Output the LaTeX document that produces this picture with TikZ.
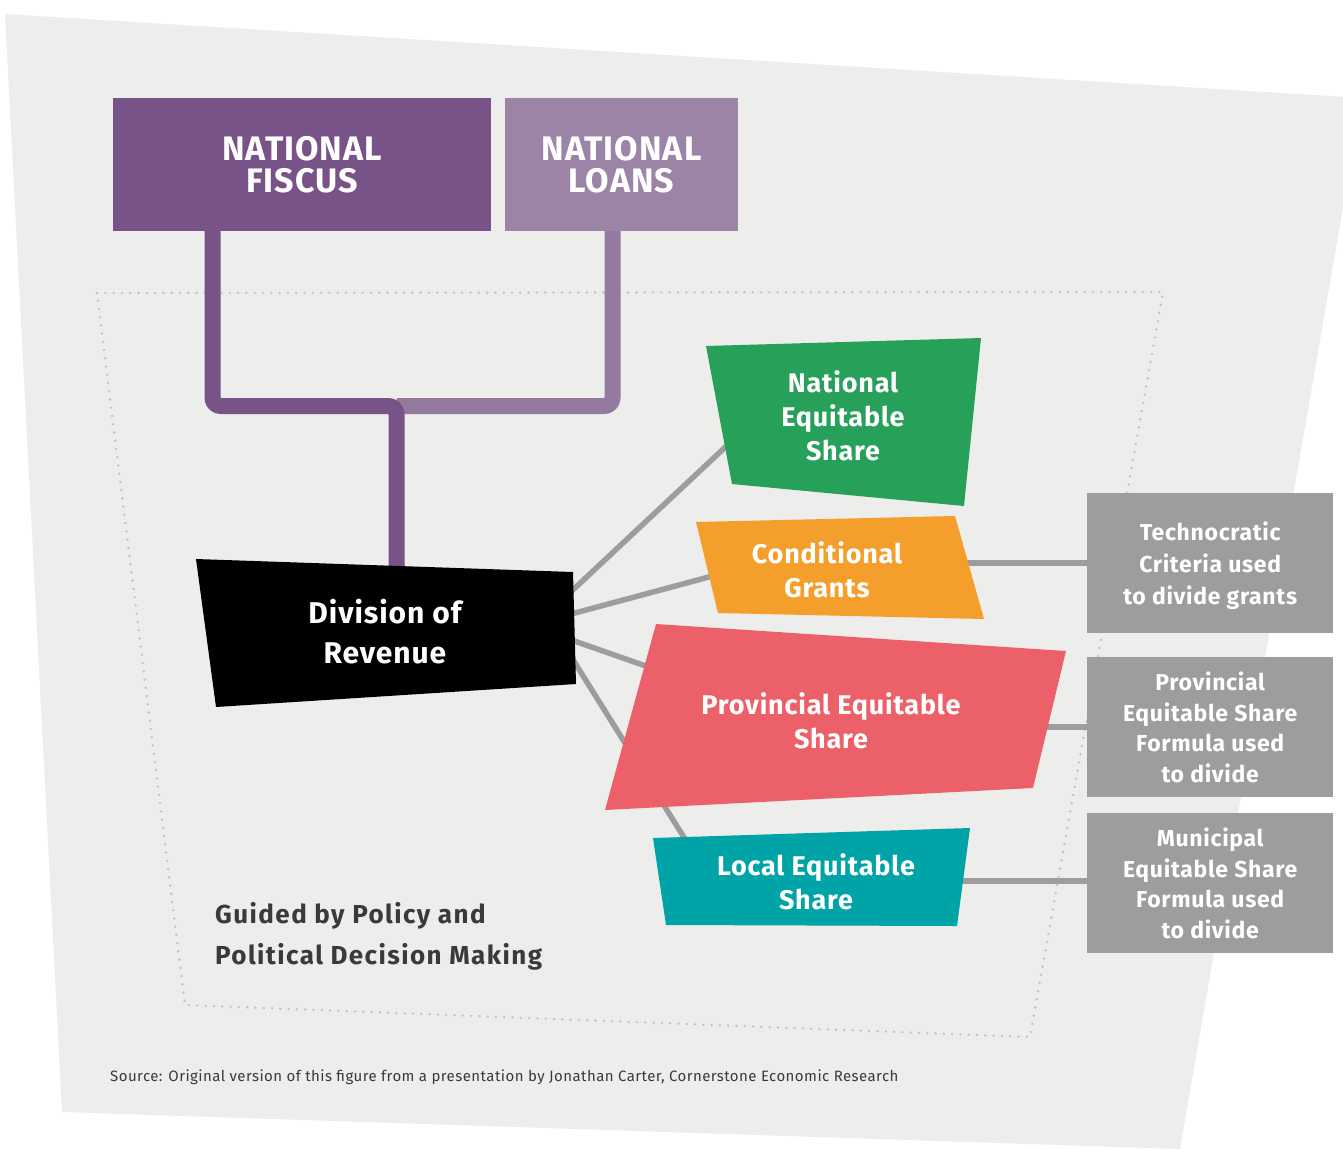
\documentclass[tikz,border=0pt]{standalone}
\usepackage{fontspec}
\setmainfont{Fira Sans}[LetterSpace=3]
\definecolor{bgrey}{RGB}{237,237,235}
\definecolor{fiscus}{RGB}{120,83,135}
\definecolor{loans}{RGB}{156,132,167}
\definecolor{loanline}{RGB}{149,122,160}
\definecolor{nesgreen}{RGB}{39,160,90}
\definecolor{cgorange}{RGB}{244,159,43}
\definecolor{pesred}{RGB}{236,97,105}
\definecolor{lesteal}{RGB}{0,164,166}
\definecolor{boxgrey}{RGB}{157,157,157}
\definecolor{dotgrey}{RGB}{192,192,192}
\definecolor{txtgrey}{RGB}{58,58,58}

\begin{document}
\begin{tikzpicture}[x=1pt,y=-1pt,line join=round,
  lbl/.style={text=white,font=\bfseries\fontsize{27}{34}\selectfont,align=center,inner sep=0pt},
  topbox/.style={text=white,font=\bfseries\fontsize{34}{32}\selectfont,align=center,inner sep=0pt,minimum height=133pt},
  crit/.style={fill=boxgrey,text=white,font=\bfseries\fontsize{23}{30.5}\selectfont,align=center,inner sep=0pt,
    minimum width=246pt,minimum height=140pt,anchor=north west},
  link/.style={boxgrey,line width=5.5pt},
  feed/.style={line width=16pt,rounded corners=8pt}]
\useasboundingbox (0,0) rectangle (1343,1149);
\clip (0,0) rectangle (1343,1149);
\fill[bgrey] (5,14) -- (1362,98) -- (1180,1149) -- (62,1112) -- cycle;
\draw[dotgrey,line width=2.6pt,line cap=round,dash pattern=on 0pt off 8.3pt] (97,293) -- (1163,292) -- (1030,1037) -- (185,1005) -- cycle;

\node[topbox,fill=fiscus,minimum width=378pt] (fiscus) at (302,164.5) {NATIONAL\\FISCUS};
\node[topbox,fill=loans,minimum width=233pt] (loans) at (621.5,164.5) {NATIONAL\\LOANS};

\coordinate (fjoin) at (396.5,406);
\coordinate (divtop) at (396.5,580);
\draw[feed,loanline] ([xshift=-9pt]loans.south) |- (fjoin);
\draw[feed,fiscus] ([xshift=-89.5pt]fiscus.south) |- (fjoin) -- (divtop);

\coordinate (div-a) at (560,602);
\coordinate (div-b) at (560,617);
\coordinate (div-c) at (560,636);
\coordinate (div-d) at (560,639);
\coordinate (nes-w) at (735,438);
\coordinate (cg-w) at (720,574);
\coordinate (cg-e) at (960,563);
\coordinate (pes-w) at (660,671);
\coordinate (pes-e) at (1030,727);
\coordinate (les-n) at (690,847);
\coordinate (les-e) at (950,881);

\node[crit,font=\bfseries\fontsize{23}{32}\selectfont] (tech) at (1087,493) {Technocratic\\Criteria used\\\raisebox{0pt}[\height][0pt]{to divide grants}};
\node[crit] (prov) at (1087,657) {Provincial\\Equitable Share\\Formula used\\to divide};
\node[crit] (muni) at (1087,813) {Municipal\\Equitable Share\\Formula used\\to divide};

\draw[link] (div-a) -- (nes-w);
\draw[link] (div-b) -- (cg-w);
\draw[link] (div-c) -- (pes-w);
\draw[link] (div-d) -- (les-n);
\draw[link] (cg-e) -- (tech.west |- cg-e);
\draw[link] (pes-e) -- (prov.west |- pes-e);
\draw[link] (les-e) -- (muni.west |- les-e);

\fill[black] (196,559) -- (573,572) -- (576,684) -- (216,707) -- cycle;
\node[lbl,font=\bfseries\fontsize{30}{40}\selectfont] (div) at (385,632) {Division of\\Revenue};
\fill[nesgreen] (706,346) -- (981,338) -- (964,506) -- (732,484) -- cycle;
\node[lbl] (nes) at (843,416) {National\\Equitable\\Share};
\fill[cgorange] (696,522) -- (955,516) -- (984,619) -- (718,613) -- cycle;
\node[lbl] (cg) at (827,570) {Conditional\\Grants};
\fill[pesred] (656,624) -- (1066,651) -- (1033,788) -- (605,810) -- cycle;
\node[lbl] (pes) at (831,721) {Provincial Equitable\\Share};
\fill[lesteal] (653,838) -- (970,828) -- (957,926) -- (666,925) -- cycle;
\node[lbl] (les) at (816,882) {Local Equitable\\Share};

\node[anchor=west,align=left,inner sep=0pt,text=txtgrey,font=\bfseries\fontsize{26}{41}\selectfont\addfontfeature{LetterSpace=5.5}] (guide) at (215,936) {Guided by Policy and\\Political Decision Making};
\node[anchor=west,inner sep=0pt,text=txtgrey,font=\fontsize{15}{18}\selectfont] (src) at (110,1077) {Source: Original version of this figure from a presentation by Jonathan Carter, Cornerstone Economic Research};
\end{tikzpicture}
\end{document}
